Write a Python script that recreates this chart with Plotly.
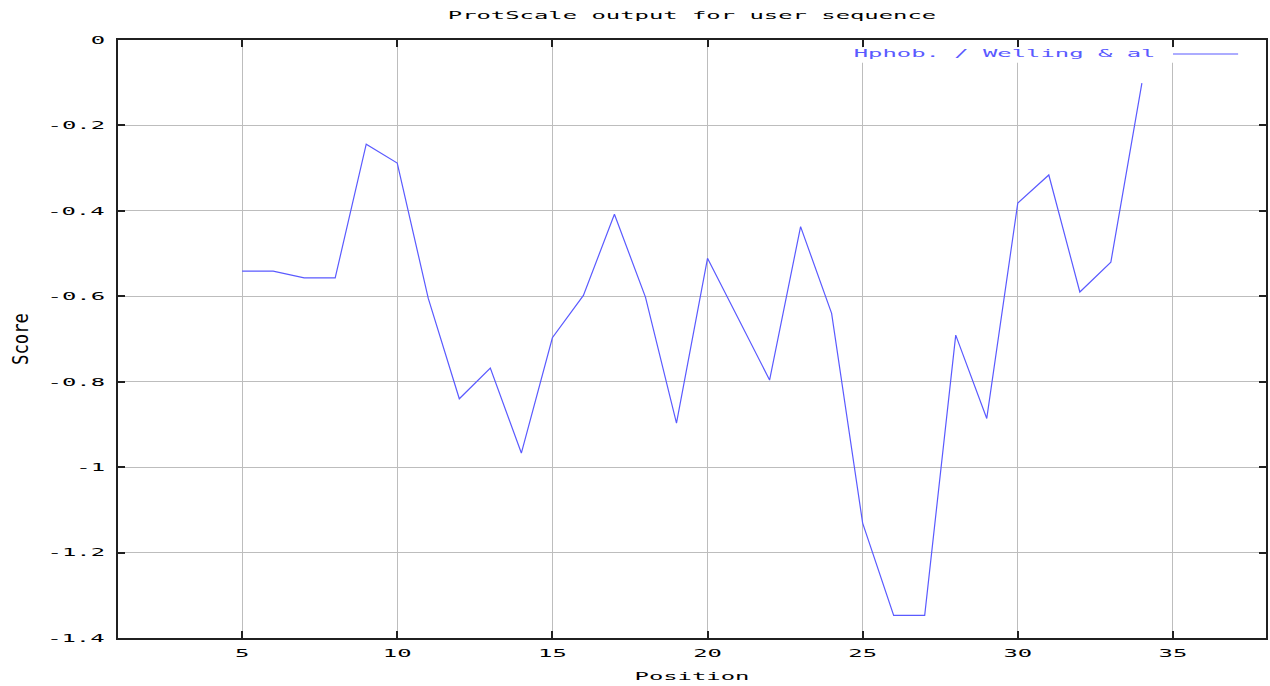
import plotly.graph_objects as go

# Sliding-window hydrophobicity (Welling & al scale)
positions = list(range(5, 35))
scores = [-0.541, -0.541, -0.557, -0.557, -0.244, -0.288, -0.605, -0.840, -0.768, -0.967,
          -0.697, -0.598, -0.408, -0.602, -0.897, -0.511, -0.653, -0.796, -0.437, -0.640,
          -1.131, -1.347, -1.347, -0.691, -0.886, -0.382, -0.316, -0.590, -0.520, -0.101]

x_ticks = [5, 10, 15, 20, 25, 30, 35]
y_ticks = [0, -0.2, -0.4, -0.6, -0.8, -1.0, -1.2, -1.4]
y_tick_labels = ["0", "-0.2", "-0.4", "-0.6", "-0.8", "-1", "-1.2", "-1.4"]

series_name = "Hphob. / Welling & al"
title_text = "ProtScale output for user sequence"

LINE_BLUE = "rgb(90,90,255)"
GRID = "#bdbdbd"
FONT = dict(family="DejaVu Sans Mono", size=11, color="#000000")

fig = go.Figure()
fig.add_trace(go.Scatter(
    x=positions, y=scores, mode="lines", name=series_name,
    line=dict(color=LINE_BLUE, width=1.2), showlegend=False,
))

axis_common = dict(
    showgrid=True, gridcolor=GRID, gridwidth=1.3,
    showline=True, linecolor="#202020", linewidth=1.5, mirror="ticks",
    ticks="inside", ticklen=7, tickcolor="#202020", tickwidth=1.5,
    zeroline=False, tickfont=FONT,
)

fig.update_xaxes(
    range=[1, 38], tickmode="array", tickvals=x_ticks,
    ticktext=[str(v) for v in x_ticks], ticklabelstandoff=4,
    title=dict(text="Position", font=FONT, standoff=13),
    **axis_common,
)
fig.update_yaxes(
    range=[-1.4, 0], tickmode="array", tickvals=y_ticks, ticktext=y_tick_labels,
    ticklabelstandoff=9,
    title=dict(text="Score", font=FONT, standoff=51),
    **axis_common,
)

# Key drawn top-right: label followed by a line sample
fig.add_shape(type="rect", xref="paper", yref="paper",
              x0=0.635, x1=0.985, y0=0.962, y1=0.988,
              fillcolor="white", line=dict(width=0), layer="above")
fig.add_shape(type="line", xref="paper", yref="paper",
              x0=0.919, x1=0.9757, y0=0.9766, y1=0.9766,
              line=dict(color=LINE_BLUE, width=1.2), layer="above")
fig.add_annotation(text=series_name, xref="paper", yref="paper",
                   x=0.772, y=0.9766, xanchor="center", yanchor="middle",
                   showarrow=False, font=dict(family="DejaVu Sans Mono", size=11, color=LINE_BLUE))

fig.update_layout(
    width=1270, height=686,
    margin=dict(l=118, r=2, t=40, b=48),
    paper_bgcolor="white", plot_bgcolor="white",
    title=dict(text=title_text, font=FONT, x=0.5, xref="paper",
               y=1 - 15 / 686, yref="container", yanchor="middle", xanchor="center"),
    font=FONT,
)

# Wide, low lettering: stretch each label about its anchor point
post = """
var gd = document.getElementById('{plot_id}');
function stretch(el, sx, sy) {
  var cur = el.getAttribute('transform') || '';
  if (el.getAttribute('data-st') === cur && cur !== '') { return; }
  var bb = el.getBBox();
  var anchor = el.getAttribute('text-anchor') || 'start';
  var cx = bb.x;
  if (anchor === 'middle') { cx = bb.x + bb.width / 2; }
  else if (anchor === 'end') { cx = bb.x + bb.width; }
  var cy = bb.y + bb.height / 2;
  var t = cur + ' translate(' + cx + ',' + cy + ') scale(' + sx + ',' + sy + ') translate(' + (-cx) + ',' + (-cy) + ')';
  el.setAttribute('transform', t);
  el.setAttribute('data-st', t);
}
function widen() {
  gd.querySelectorAll('.gtitle, .xtick text, .ytick text, .xtitle, .annotation-text').forEach(function(el) {
    stretch(el, 2.17, 1);
  });
  gd.querySelectorAll('.ytitle').forEach(function(el) { stretch(el, 1.57, 1.9); });
}
widen();
if (gd.on) { gd.on('plotly_afterplot', widen); }
"""

fig.write_html("out.html", post_script=post)
